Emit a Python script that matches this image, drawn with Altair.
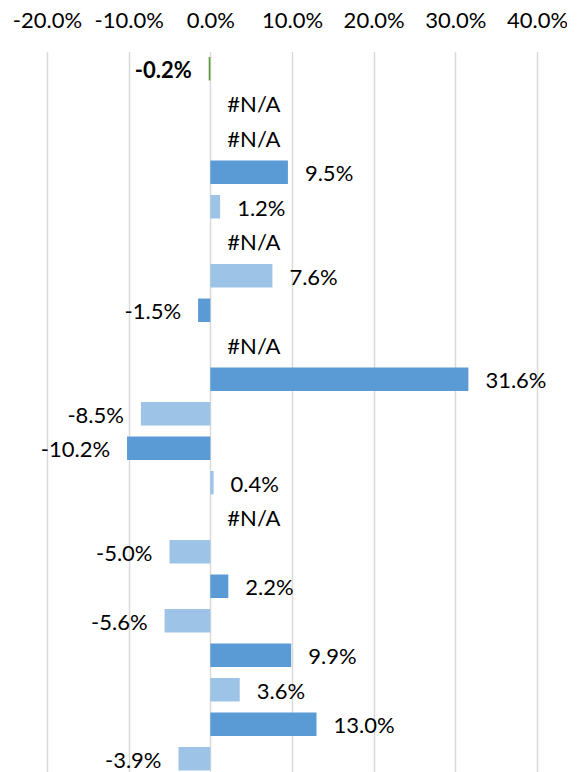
import altair as alt
import pandas as pd

# Row order top -> bottom; None = #N/A
values = [-0.2, None, None, 9.5, 1.2, None, 7.6, -1.5, None, 31.6, -8.5,
          -10.2, 0.4, None, -5.0, 2.2, -5.6, 9.9, 3.6, 13.0, -3.9]
series = ["total"] + ["dark" if i % 2 == 1 else "light" for i in range(1, 21)]
x_ticks = [-20, -10, 0, 10, 20, 30, 40]

rows = []
for i, (v, s) in enumerate(zip(values, series)):
    rows.append({
        "row": i,
        "value": v if v is not None else 0.0,
        "has": v is not None,
        "label": f"{v:.1f}%" if v is not None else "#N/A",
        "series": s,
        "neg": (v is not None and v < 0),
        "bold": s == "total",
    })
df = pd.DataFrame(rows)

FONT = "Lato"
FS = 22

y_enc = alt.Y("row:O", axis=None,
              scale=alt.Scale(paddingInner=0.32, paddingOuter=0.16))
x_scale = alt.Scale(domain=[-20, 40], nice=False, zero=False)

color = alt.Color("series:N", legend=None,
                  scale=alt.Scale(domain=["total", "dark", "light"],
                                  range=["#5A9B3C", "#5B9BD5", "#9DC3E6"]))

base = alt.Chart(df)

bars = base.transform_filter("datum.has").mark_bar().encode(
    x=alt.X("value:Q", scale=x_scale,
            axis=alt.Axis(orient="top", values=x_ticks, title=None,
                          domain=False, ticks=False, tickSize=0,
                          grid=True, gridColor="#D9D9D9", gridWidth=1.5,
                          labelFont=FONT, labelFontSize=FS, labelColor="#000000",
                          labelPadding=19, labelOverlap=False, labelFlush=False,
                          labelBound=False,
                          labelExpr="(datum.value < 0 ? '-' : '') + format(abs(datum.value), '.1f') + '%'")),
    x2=alt.datum(0),
    y=y_enc,
    color=color,
)

pos_text = base.transform_filter("!datum.neg && !datum.bold").mark_text(
    align="left", baseline="middle", dx=17, dy=2, font=FONT, fontSize=FS, color="#000000"
).encode(x=alt.X("value:Q", scale=x_scale), y=y_enc, text="label:N")

neg_text = base.transform_filter("datum.neg && !datum.bold").mark_text(
    align="right", baseline="middle", dx=-17, dy=2, font=FONT, fontSize=FS, color="#000000"
).encode(x=alt.X("value:Q", scale=x_scale), y=y_enc, text="label:N")

bold_text = base.transform_filter("datum.bold").mark_text(
    align="right", baseline="middle", dx=-17, dy=2, font=FONT, fontSize=FS,
    fontWeight="bold", color="#000000"
).encode(x=alt.X("value:Q", scale=x_scale), y=y_enc, text="label:N")

chart = alt.layer(bars, pos_text, neg_text, bold_text).properties(
    width=490,
    height=724.5,
    autosize=alt.AutoSizeParams(type="none"),
    padding={"left": 39, "top": 43.5, "right": 30, "bottom": 0},
).configure_view(stroke=None)

chart.save("out.html", embed_options={"renderer": "svg", "actions": False})
